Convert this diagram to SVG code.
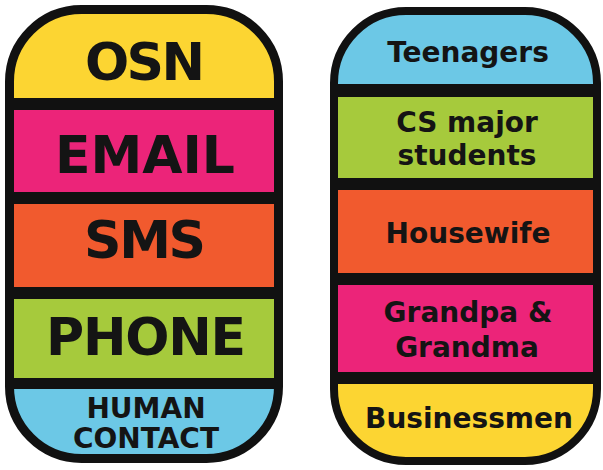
<svg xmlns="http://www.w3.org/2000/svg" width="603" height="470" viewBox="0 0 603 470">
  <style>
    .lbl { font-family: "DejaVu Sans", Verdana, sans-serif; font-weight: bold; fill: #141414; text-anchor: middle; }
    .big { font-size: 52px; }
    .sm { font-size: 28px; }
    .bar { fill: #111; }
    .outline { fill: none; stroke: #111; }
    .yellow { fill: #FCD532; }
    .pink { fill: #EC2479; }
    .orange { fill: #F15A2E; }
    .green { fill: #A6CA3C; }
    .blue { fill: #6CC8E6; }
  </style>
  <defs>
    <clipPath id="clip-left">
      <rect x="9.5" y="9.5" width="269" height="449" rx="72" ry="72"/>
    </clipPath>
    <clipPath id="clip-right">
      <rect x="334" y="11" width="263" height="450" rx="72" ry="72"/>
    </clipPath>
  </defs>

  <rect width="603" height="470" fill="#fff"/>

  <!-- Left column: communication channels -->
  <g id="channels">
    <g clip-path="url(#clip-left)">
      <g id="osn">
        <rect class="yellow" x="0" y="0" width="290" height="104"/>
        <text class="lbl big" x="145" y="80" textLength="120">OSN</text>
      </g>
      <g id="email">
        <rect class="pink" x="0" y="104" width="290" height="94"/>
        <text class="lbl big" x="145" y="173" textLength="180">EMAIL</text>
      </g>
      <g id="sms">
        <rect class="orange" x="0" y="198" width="290" height="95"/>
        <text class="lbl big" x="145" y="258" textLength="122">SMS</text>
      </g>
      <g id="phone">
        <rect class="green" x="0" y="293" width="290" height="91"/>
        <text class="lbl big" x="146" y="355" textLength="200">PHONE</text>
      </g>
      <g id="human-contact">
        <rect class="blue" x="0" y="384" width="290" height="86"/>
        <text class="lbl sm" x="146" y="418">HUMAN</text>
        <text class="lbl sm" x="146" y="448">CONTACT</text>
      </g>
      <rect class="bar" x="0" y="98" width="290" height="12"/>
      <rect class="bar" x="0" y="192" width="290" height="12"/>
      <rect class="bar" x="0" y="287" width="290" height="12"/>
      <rect class="bar" x="0" y="378" width="290" height="11"/>
    </g>
    <rect class="outline" x="9.5" y="9.5" width="269" height="449" rx="72" ry="72" stroke-width="9"/>
  </g>

  <!-- Right column: user groups -->
  <g id="users">
    <g clip-path="url(#clip-right)">
      <g id="teenagers">
        <rect class="blue" x="320" y="0" width="283" height="90"/>
        <text class="lbl sm" x="468" y="62">Teenagers</text>
      </g>
      <g id="cs-students">
        <rect class="green" x="320" y="90" width="283" height="94"/>
        <text class="lbl sm" x="467" y="132">CS major</text>
        <text class="lbl sm" x="467" y="165">students</text>
      </g>
      <g id="housewife">
        <rect class="orange" x="320" y="184" width="283" height="95"/>
        <text class="lbl sm" x="468" y="243">Housewife</text>
      </g>
      <g id="grandparents">
        <rect class="pink" x="320" y="279" width="283" height="99"/>
        <text class="lbl sm" x="468" y="322">Grandpa &amp;</text>
        <text class="lbl sm" x="467" y="357">Grandma</text>
      </g>
      <g id="businessmen">
        <rect class="yellow" x="320" y="378" width="283" height="92"/>
        <text class="lbl sm" x="469" y="428">Businessmen</text>
      </g>
      <rect class="bar" x="320" y="84" width="283" height="13"/>
      <rect class="bar" x="320" y="178" width="283" height="12"/>
      <rect class="bar" x="320" y="273" width="283" height="12"/>
      <rect class="bar" x="320" y="372" width="283" height="12"/>
    </g>
    <rect class="outline" x="334" y="11" width="263" height="450" rx="72" ry="72" stroke-width="8"/>
  </g>
</svg>
